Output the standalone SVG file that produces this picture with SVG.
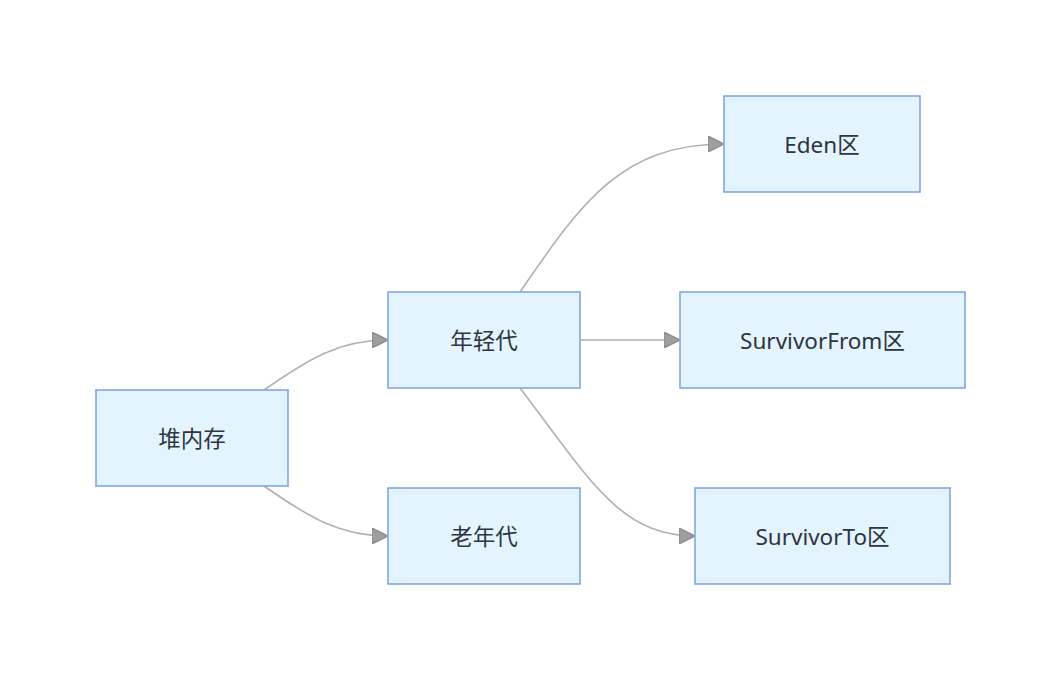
<svg xmlns="http://www.w3.org/2000/svg" width="1061" height="680" viewBox="0 0 1061 680">
<style>
.n rect{fill:#e3f4ff;stroke:#7ea8e2;stroke-width:1.6}
.n text{font-family:"Noto Sans","Noto Sans CJK SC",sans-serif;font-size:22.5px;fill:#2e3440;text-anchor:middle;dominant-baseline:central}
.e path{fill:none;stroke:#b0b0b0;stroke-width:1.6}
</style>
<defs>
<marker id="a" viewBox="0 0 10 10" refX="10" refY="5" markerWidth="16" markerHeight="16" markerUnits="userSpaceOnUse" orient="auto">
<path d="M0,0 L10,5 L0,10 z" fill="#9e9e9e" stroke="#8a8a8a" stroke-width="0.8"/>
</marker>
</defs>
<rect width="1061" height="680" fill="#ffffff"/>
<g class="e" id="connectors">
<path d="M264,390 C310,358 340,340 388,340" marker-end="url(#a)"/>
<path d="M264,486 C310,518 340,536 388,536" marker-end="url(#a)"/>
<path d="M520,292 C580,205 620,144 724,144" marker-end="url(#a)"/>
<path d="M580,340 L680,340" marker-end="url(#a)"/>
<path d="M520,388 C590,480 620,536 695,536" marker-end="url(#a)"/>
</g>
<g class="n" id="heap"><rect x="96" y="390" width="192" height="96"/><text x="192" y="438">堆内存</text></g>
<g class="n" id="young"><rect x="388" y="292" width="192" height="96"/><text x="484" y="340">年轻代</text></g>
<g class="n" id="old"><rect x="388" y="488" width="192" height="96"/><text x="484" y="536">老年代</text></g>
<g class="n" id="eden"><rect x="724" y="96" width="196" height="96"/><text x="822" y="144">Eden区</text></g>
<g class="n" id="from"><rect x="680" y="292" width="285" height="96"/><text x="822.500" y="340">SurvivorFrom区</text></g>
<g class="n" id="to"><rect x="695" y="488" width="255" height="96"/><text x="822.500" y="536">SurvivorTo区</text></g>
</svg>
